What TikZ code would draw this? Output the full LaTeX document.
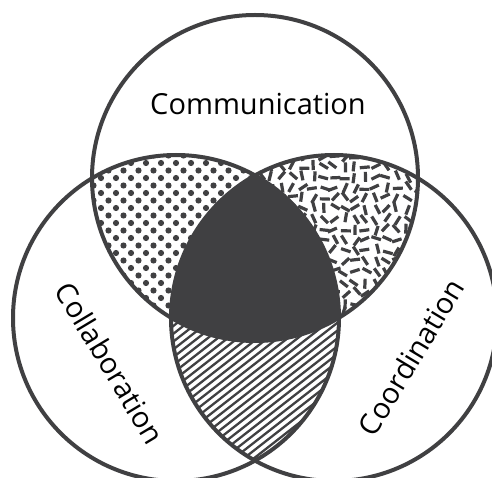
\documentclass[tikz,border=0pt]{standalone}
\usepackage{fontspec}
\setmainfont{Open Sans}
\definecolor{venngray}{HTML}{404042}
\newcommand{\commcircle}{(255,299) circle (163)}
\newcommand{\collcircle}{(176,159) circle (163)}
\newcommand{\coorcircle}{(334,159) circle (163)}

\begin{document}
\begin{tikzpicture}[x=1pt,y=1pt,
        ring/.style={draw=venngray, line width=4pt},
        dotfill/.style={fill=venngray},
        dashbit/.style={draw=venngray, line width=3.2pt},
        hatchline/.style={draw=venngray, line width=2.3pt},
        vennlabel/.style={font=\fontsize{29}{30}\selectfont, text=black}]
    \useasboundingbox (0,0) rectangle (492,477);
    \clip (0,0) rectangle (492,477);

    % communication and collaboration: dots
    \begin{scope}
        \clip \commcircle;
        \clip \collcircle;
        \foreach \j in {0,...,26}
            \foreach \i in {0,...,11}
                \fill[dotfill] ({86+15*\i+7.5*mod(\j,2)},{134+7.5*\j}) circle (3.1);
    \end{scope}

    % communication and coordination: random dashes
    \begin{scope}
        \clip \commcircle;
        \clip \coorcircle;
        \pgfmathsetseed{42}
        \foreach \j in {0,...,20}
            \foreach \i in {0,...,17} {
                \pgfmathsetmacro{\dashx}{250+10.5*\i+2*rand}
                \pgfmathsetmacro{\dashy}{132+10.5*\j+2*rand}
                \pgfmathsetmacro{\dashang}{180*rnd}
                \draw[dashbit] (\dashx,\dashy) ++(\dashang+180:5) -- ++(\dashang:10);
            }
    \end{scope}

    % collaboration and coordination: hatching
    \begin{scope}
        \clip \collcircle;
        \clip \coorcircle;
        \foreach \k in {-20,...,26}
            \draw[hatchline] (120+10*\k,0) -- ++(38:300);
    \end{scope}

    % all three
    \begin{scope}
        \clip \commcircle;
        \clip \collcircle;
        \fill[venngray] \coorcircle;
    \end{scope}

    \draw[ring] \commcircle;
    \draw[ring] \collcircle;
    \draw[ring] \coorcircle;

    \node[vennlabel, anchor=base] (comm) at (258,362) {Communication};
    \node[vennlabel, rotate=-59] (coll) at (110,114) {Collaboration};
    \node[vennlabel, rotate=59] (coor) at (411,120) {Coordination};
\end{tikzpicture}
\end{document}
